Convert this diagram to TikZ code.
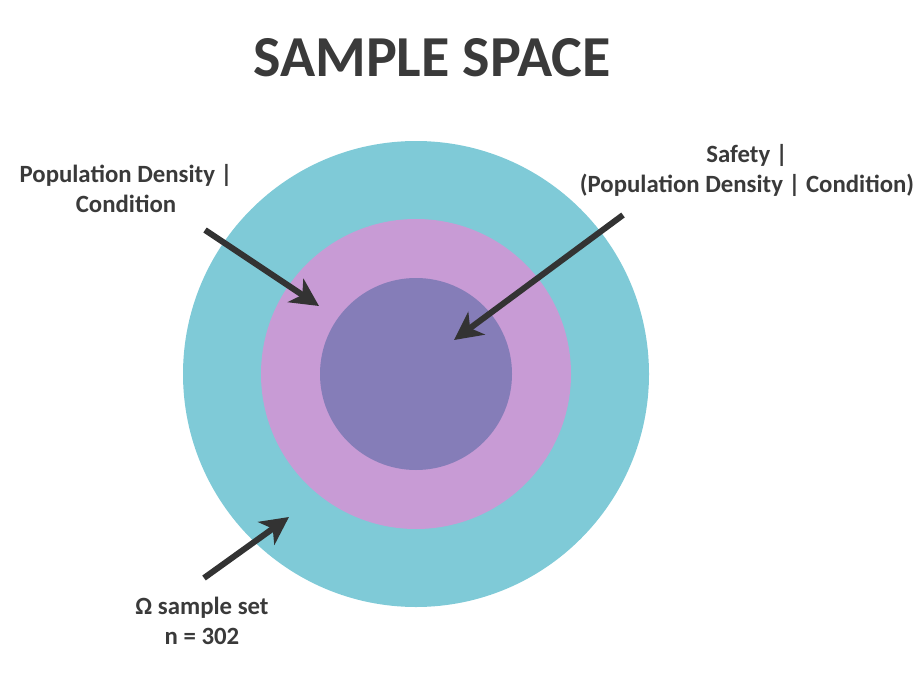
\documentclass[tikz,border=0pt]{standalone}
\usepackage{fontspec}
\setmainfont{Carlito}
\usepackage{xcolor}
\definecolor{colRing}{HTML}{7FCAD7}
\definecolor{colMid}{HTML}{C89BD5}
\definecolor{colCore}{HTML}{857DB8}
\definecolor{colText}{HTML}{3A3A3A}
\definecolor{colArrow}{HTML}{333333}
\usetikzlibrary{arrows.meta, positioning}
\tikzset{
    disc/.style={
        circle, fill=#1, draw=none, inner sep=0pt
    },
    lbl/.style={
        align=center, inner sep=0pt, text=colText,
        font=\fontsize{18.6pt}{22.5pt}\selectfont\bfseries
    },
    ptr/.style={
        -{Stealth[length=21pt, width=21pt, inset=6pt]},
        line width=4.5pt, color=colArrow
    },
}
\begin{document}
\begin{tikzpicture}[x=0.75pt, y=-0.75pt]
    \useasboundingbox (0,0) rectangle (924,674);
    % title
    \node[anchor=base, text=colText, inner sep=0pt,
          font=\fontsize{43.5pt}{50pt}\selectfont\bfseries] (title) at (432,76)
          {SAMPLE SPACE};
    % nested events
    \node[disc=colRing, minimum size=466*0.75pt] (omega) at (416,374) {};
    \node[disc=colMid, minimum size=310*0.75pt] (pd) at (416,374) {};
    \node[disc=colCore, minimum size=192*0.75pt] (safe) at (416,374) {};
    % labels (base = last line)
    \node[lbl, anchor=base] (pdlbl) at (126,212)
          {Population Density |\\Condition};
    \node[lbl, anchor=base] (safelbl) at (747,192)
          {Safety |\\(Population Density | Condition)};
    \node[lbl, anchor=base] (omegalbl) at (202,644)
          {Ω sample set\\n = 302};
    % pointers
    \coordinate (pdtail) at (205,230);
    \coordinate (pdhead) at (319,306);
    \coordinate (safetail) at (623,215);
    \coordinate (safehead) at (454,340);
    \coordinate (omegatail) at (204,578);
    \coordinate (omegahead) at (289,517);
    \draw[ptr] (pdtail) -- (pdhead);
    \draw[ptr] (safetail) -- (safehead);
    \draw[ptr] (omegatail) -- (omegahead);
\end{tikzpicture}
\end{document}
